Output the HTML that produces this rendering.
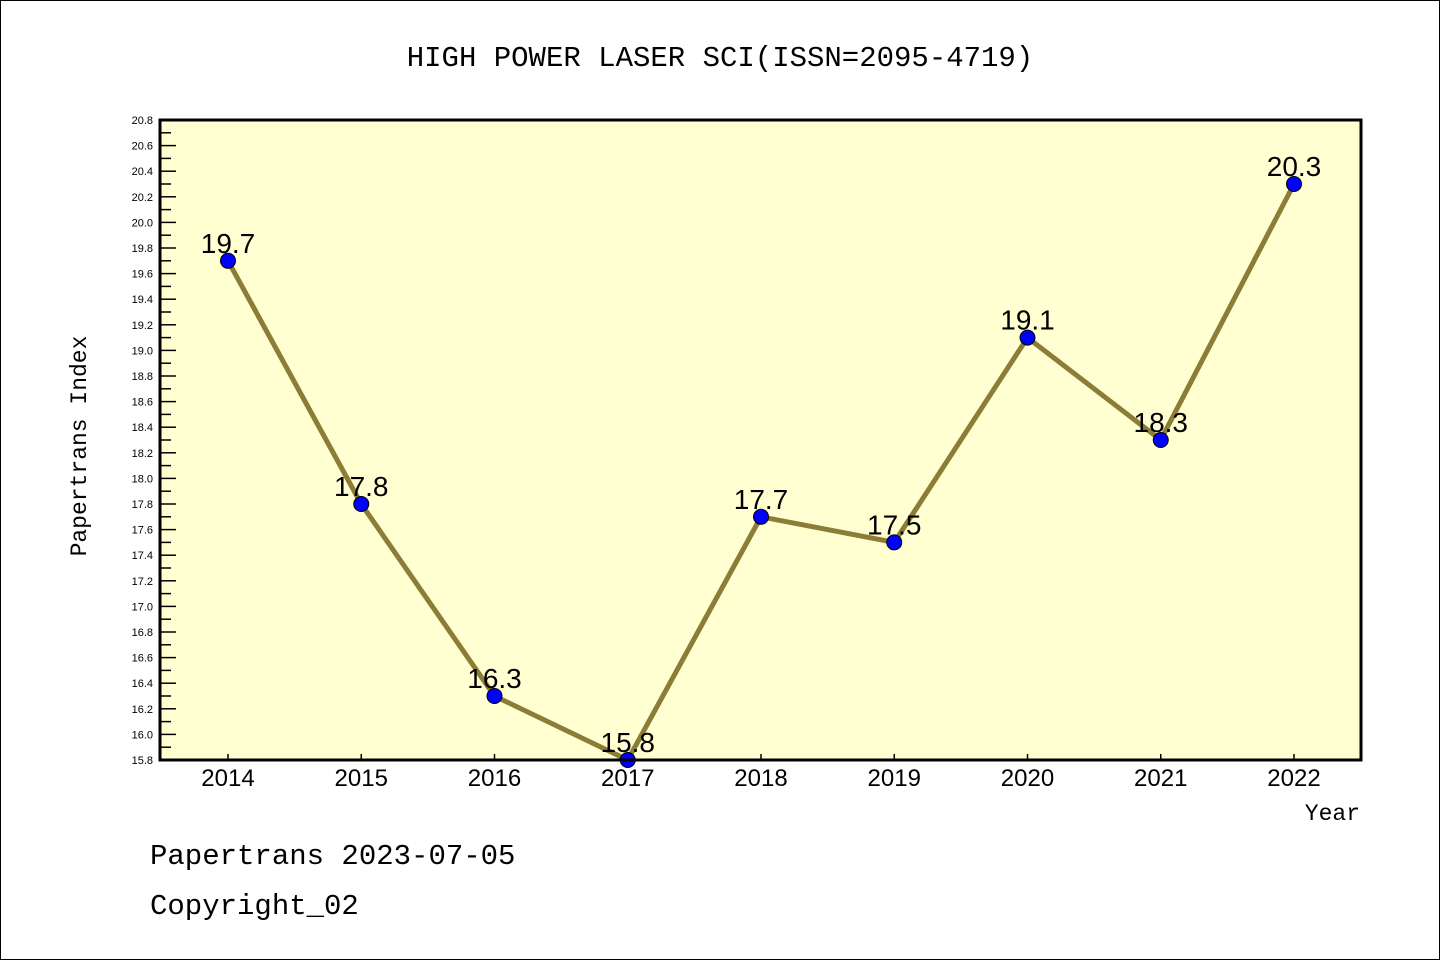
<!DOCTYPE html>
<html><head><meta charset="utf-8"><style>
body{margin:0;background:#fff}
svg{display:block;font-family:"Liberation Mono","DejaVu Sans Mono",monospace}
</style></head><body>
<svg id="c" width="1440" height="960">
<rect x="0.5" y="0.5" width="1439" height="959" fill="#fff" stroke="#000"/>
<text x="720" y="66" text-anchor="middle" font-size="29">HIGH POWER LASER SCI(ISSN=2095-4719)</text>
<rect x="160" y="120" width="1201" height="640" fill="#ffffd2"/>
<g id="ticks"></g>
<g id="marks"></g>
<rect x="160" y="120" width="1201" height="640" fill="none" stroke="#000" stroke-width="3"/>
<text x="86" y="446" text-anchor="middle" font-size="23" transform="rotate(-90 86 446)">Papertrans Index</text>
<text x="1360" y="820" text-anchor="end" font-size="23">Year</text>
<text x="150" y="864" font-size="29">Papertrans 2023-07-05</text>
<text x="150" y="914" font-size="29">Copyright_02</text>
</svg>
<script>
const years=[2014,2015,2016,2017,2018,2019,2020,2021,2022];
const values=[19.7,17.8,16.3,15.8,17.7,17.5,19.1,18.3,20.3];
const yMin=15.8,yMax=20.8;
const NS="http://www.w3.org/2000/svg";
const xs=y=>228+(y-2014)*133.25;
const ys=v=>760-(v-yMin)/(yMax-yMin)*640;
function mk(t,a,p){const e=document.createElementNS(NS,t);for(const k in a)e.setAttribute(k,a[k]);p.appendChild(e);return e;}
const tg=document.getElementById('ticks'),mg=document.getElementById('marks');
for(let i=0;i<=50;i++){const v=yMin+i*0.1,y=ys(v),maj=i%2==0;
 const l=mk('line',{x1:160,x2:160+(maj?16:11),y1:y,y2:y,stroke:'#000','stroke-width':1.5},tg);
 
 
 if(maj){const t=mk('text',{x:153,y:y+4,'text-anchor':'end','font-size':11,'font-family':'Liberation Sans,sans-serif'},tg);t.textContent=v.toFixed(1);
 
 }}
years.forEach(yr=>{const x=xs(yr);
 const l=mk('line',{x1:x,x2:x,y1:760,y2:754,stroke:'#000','stroke-width':1.5},tg);
 
 
 const t=mk('text',{x:x,y:786,'text-anchor':'middle','font-size':24,'font-family':'Liberation Sans,sans-serif'},tg);t.textContent=yr;
 
 });
const pl=mk('polyline',{points:years.map((y,i)=>xs(y)+','+ys(values[i])).join(' '),fill:'none',stroke:'#8b7d36','stroke-width':5},mg);


years.forEach((yr,i)=>{const x=xs(yr),y=ys(values[i]);
 const c=mk('circle',{cx:x,cy:y,r:7.5,fill:'#0000ff',stroke:'#000','stroke-width':1},mg);
 
 
 const t=mk('text',{x:x,y:y-8,'text-anchor':'middle','font-size':28,'font-family':'Liberation Sans,sans-serif'},mg);t.textContent=values[i].toFixed(1);
 
 });
</script>
</body></html>
